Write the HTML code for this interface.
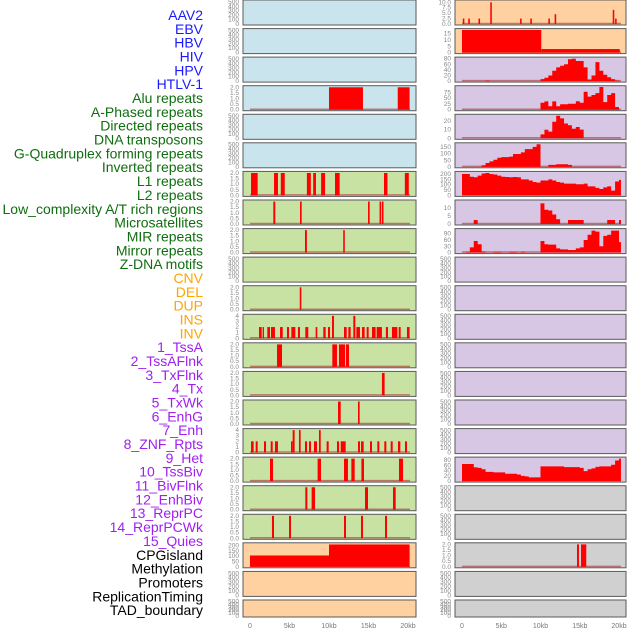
<!DOCTYPE html>
<html><head><meta charset="utf-8"><style>
html,body{margin:0;padding:0;background:#fff;}
svg{display:block;font-family:"Liberation Sans",sans-serif;}
</style></head><body>
<svg id="chart" width="630" height="630" viewBox="0 0 630 630" xmlns="http://www.w3.org/2000/svg"></svg>
<script>
// ---------- labels ----------
const trackLabels = ["AAV2","EBV","HBV","HIV","HPV","HTLV-1","Alu repeats","A-Phased repeats","Directed repeats","DNA transposons","G-Quadruplex forming repeats","Inverted repeats","L1 repeats","L2 repeats","Low_complexity A/T rich regions","Microsatellites","MIR repeats","Mirror repeats","Z-DNA motifs","CNV","DEL","DUP","INS","INV","1_TssA","2_TssAFlnk","3_TxFlnk","4_Tx","5_TxWk","6_EnhG","7_Enh","8_ZNF_Rpts","9_Het","10_TssBiv","11_BivFlnk","12_EnhBiv","13_ReprPC","14_ReprPCWk","15_Quies","CPGisland","Methylation","Promoters","ReplicationTiming","TAD_boundary"];
const labelColors = ["#1a1aff","#1a1aff","#1a1aff","#1a1aff","#1a1aff","#1a1aff","#0f6e0f","#0f6e0f","#0f6e0f","#0f6e0f","#0f6e0f","#0f6e0f","#0f6e0f","#0f6e0f","#0f6e0f","#0f6e0f","#0f6e0f","#0f6e0f","#0f6e0f","#ffa500","#ffa500","#ffa500","#ffa500","#ffa500","#a020f0","#a020f0","#a020f0","#a020f0","#a020f0","#a020f0","#a020f0","#a020f0","#a020f0","#a020f0","#a020f0","#a020f0","#a020f0","#a020f0","#a020f0","#000","#000","#000","#000","#000"];
const xTickValues = [0,5,10,15,20];
const xTickLabels = ["0","5kb","10kb","15kb","20kb"];
const emptyTicks = [0,100,200,300,400,500];
const binTicks = [0,0.5,1,1.5,2];
const binLabels = ["0.0","0.5","1.0","1.5","2.0"];

// ---------- segment data [startKb, endKb, height] ----------
const aav2Spikes = [[0.1,0.3,2.5],[0.8,1.0,2.5],[2.1,2.3,2.5],[3.6,3.8,10],[7.4,7.6,2.5],[8.7,8.9,2.5],[11.0,11.2,2.5],[11.8,12.0,4.5],[19.2,19.4,6.5],[19.5,19.7,2.5]];
const ebvSteps = [[0,10.1,18],[10.1,20.1,2.8]];
const aluBlocks = [[10.0,14.3,2],[18.7,20.2,2]];
const l1Blocks = [[0.13,0.97,2],[3.04,3.54,2],[3.9,4.4,2],[7.2,7.7,2],[8.0,8.35,2],[9.0,9.5,2],[10.76,11.35,2],[16.96,17.4,2],[19.6,20.1,2]];
const lowCxBlocks = [[2.95,3.2,2],[6.33,6.54,2],[14.94,15.15,2],[16.4,16.6,2],[16.7,16.9,2]];
const mirBlocks = [[6.96,7.2,2],[11.8,12.0,2]];
const cnvBlocks = [[6.3,6.5,2]];
const insBlocks = [[1.14,1.48,2],[1.6,1.77,2],[2.19,2.53,2],[2.66,3.16,2],[3.8,4.14,2],[4.68,4.94,2],[5.23,5.74,2],[6.07,6.33,2],[7.0,7.38,2],[8.31,8.52,2],[9.28,9.58,2],[9.87,10.13,2],[10.38,10.63,4],[11.9,12.24,2],[12.45,12.74,2],[13.08,13.33,4],[13.46,13.92,2],[14.18,14.51,2],[14.77,15.02,2],[15.44,15.9,2],[16.03,16.7,2],[17.2,17.47,2],[17.97,18.65,2],[18.82,19.07,2],[19.87,20.2,2]];
const tssABlocks = [[3.42,4.05,2],[10.42,11.01,2],[11.26,12.03,2],[12.15,12.53,2]];
const txFlnkBlocks = [[16.7,17.04,2]];
const txWkBlocks = [[11.14,11.48,2],[13.67,13.88,2]];
const znfBlocks = [[0.13,0.46,2],[0.72,0.97,2],[1.77,2.03,2],[2.62,2.87,2],[3.16,3.54,2],[5.19,5.4,2],[5.4,5.65,4],[6.2,6.41,4],[6.96,7.22,2],[7.47,7.72,2],[8.1,8.48,2],[8.73,8.95,4],[9.7,9.96,2],[11.01,11.27,2],[11.48,12.11,2],[13.67,13.92,2],[14.05,14.39,2],[15.19,15.44,2],[16.12,16.37,2],[17.0,17.26,2],[17.81,18.06,2],[18.73,19.03,2],[19.62,19.87,2]];
const tssBivBlocks = [[2.53,2.91,2],[8.56,8.99,2],[11.9,12.4,2],[12.83,13.25,2],[14.1,14.43,2],[18.86,19.37,2]];
const enhBivBlocks = [[7.0,7.26,2],[7.8,8.23,2],[14.56,14.94,2],[18.1,18.44,2]];
const reprPCWkBlocks = [[2.78,3.04,2],[4.94,5.19,2],[11.9,12.15,2],[14.05,14.3,2],[17.09,17.34,2]];
const cpgSteps = [[0,10,106],[10,20.2,209]];
const methBlocks = [[14.65,14.9,2],[15.16,15.83,2]];

// ---------- histogram data (0.5kb bins from 0 to 20.0) ----------
const hivBins = [0,0,0,0,0,0,2,0,0,0,0,0,0,0,0,0,0,0,0,0,7,12,20,37,49,55,60,78,80,72,72,49,6,20,68,37,23,14,7,2,0];
const hpvBins = [0,0,0,0,0,0,0,0,0,0,0,0,0,0,0,0,0,0,0,0,30,36,15,36,15,24,24,26,26,37,30,78,57,64,72,99,33,64,72,12,0];
const htlvBins = [0,0,0,0,0,0,0,0,0,0,0,0,0,0,0,0,0,0,0,0,4.5,9.8,7.6,19,26,23,17,15,11,13,10,0,0,0,0,0,0,0,0,0,0];
const gquadBins = [0,0,0,0,0,12,29,42,54,69,74,74,78,98,98,110,135,135,152,172,0,0,15,15,20,20,20,15,0,0,0,0,0,0,0,0,0,0,0,0,0];
const l2Bins = [200,200,175,170,185,205,210,200,195,185,175,172,170,172,170,150,150,140,125,120,140,140,150,140,125,120,110,110,110,105,105,110,85,85,70,60,75,85,45,130,145];
const microBins = [0,0,0,2.5,0,0,0,0,0,0,0,0,0,0,0,0,0,0,0,0,13,9,8.5,6,3,0,0,2.5,2.5,2.5,2.5,0,0,0,0,0,0,2.5,2.5,0,2.5];
const mirrorBins = [0,3,25,55,40,5,0,0,3,3,0,0,3,3,0,3,0,0,0,0,55,40,38,38,20,15,15,12,12,20,25,60,85,105,100,30,80,85,105,105,50];
const hetBins = [65,65,65,52,50,45,35,35,33,33,33,28,28,28,25,20,18,14,14,14,56,56,56,56,56,56,53,53,53,53,50,38,45,48,54,56,56,56,62,78,85];

// ---------- panel layout ----------
const COLORS = {blue:"#c9e4ec", green:"#c8e2a4", orange:"#ffd1a0", lav:"#d7c6e4", gray:"#d0d0d0"};
const COLS = [{x0:243,x1:416,zeroX:250,pxPerKb:7.9,tickX:239},{x0:455,x1:626,zeroX:462,pxPerKb:7.85,tickX:451}];
// row, col, background, kind, data, vmax, ticks, tick labels, name
const panels = [
 [0,0,"blue","empty"],[0,1,"orange","seg",aav2Spikes,10.6,[0,2.5,5,7.5,10],["0.0","2.5","5.0","7.5","10.0"],"aav2-track"],
 [1,0,"blue","empty"],[1,1,"orange","seg",ebvSteps,18.3,[0,5,10,15],["0","5","10","15"],"ebv-track"],
 [2,0,"blue","empty"],[2,1,"lav","hist",hivBins,82,[0,20,40,60,80],["0","20","40","60","80"],"hiv-track"],
 [3,0,"blue","seg",aluBlocks,2.05,binTicks,binLabels,"alu-track"],[3,1,"lav","hist",hpvBins,100,[0,25,50,75],["0","25","50","75"],"hpv-track"],
 [4,0,"blue","empty"],[4,1,"lav","hist",htlvBins,26.5,[0,10,20],["0","10","20"],"htlv-track"],
 [5,0,"blue","empty"],[5,1,"lav","hist",gquadBins,175,[0,50,100,150],["0","50","100","150"],"gquad-track"],
 [6,0,"green","seg",l1Blocks,2.05,binTicks,binLabels,"l1-track"],[6,1,"lav","hist",l2Bins,215,[0,50,100,150,200],["0","50","100","150","200"],"l2-track"],
 [7,0,"green","seg",lowCxBlocks,2.05,binTicks,binLabels,"lowcomplexity-track"],[7,1,"lav","hist",microBins,14.5,[0,5,10],["0","5","10"],"microsatellite-track"],
 [8,0,"green","seg",mirBlocks,2.05,binTicks,binLabels,"mir-track"],[8,1,"lav","hist",mirrorBins,110,[0,30,60,90],["0","30","60","90"],"mirror-track"],
 [9,0,"green","empty"],[9,1,"lav","empty"],
 [10,0,"green","seg",cnvBlocks,2.05,binTicks,binLabels,"cnv-track"],[10,1,"lav","empty"],
 [11,0,"green","seg",insBlocks,4.1,[0,1,2,3,4],["0","1","2","3","4"],"ins-track"],[11,1,"lav","empty"],
 [12,0,"green","seg",tssABlocks,2.05,binTicks,binLabels,"tssa-track"],[12,1,"lav","empty"],
 [13,0,"green","seg",txFlnkBlocks,2.05,binTicks,binLabels,"txflnk-track"],[13,1,"lav","empty"],
 [14,0,"green","seg",txWkBlocks,2.05,binTicks,binLabels,"txwk-track"],[14,1,"lav","empty"],
 [15,0,"green","seg",znfBlocks,4.1,[0,1,2,3,4],["0","1","2","3","4"],"znf-track"],[15,1,"lav","empty"],
 [16,0,"green","seg",tssBivBlocks,2.05,binTicks,binLabels,"tssbiv-track"],[16,1,"lav","hist",hetBins,87,[0,20,40,60,80],["0","20","40","60","80"],"het-track"],
 [17,0,"green","seg",enhBivBlocks,2.05,binTicks,binLabels,"enhbiv-track"],[17,1,"gray","empty"],
 [18,0,"green","seg",reprPCWkBlocks,2.05,binTicks,binLabels,"reprpcwk-track"],[18,1,"gray","empty"],
 [19,0,"orange","seg",cpgSteps,215,[0,50,100,150,200],["0","50","100","150","200"],"cpg-track"],[19,1,"gray","seg",methBlocks,2.05,binTicks,binLabels,"methylation-track"],
 [20,0,"orange","empty"],[20,1,"gray","empty"],
 [21,0,"orange","empty"],[21,1,"gray","empty"]
];

const NS="http://www.w3.org/2000/svg";
const svg=document.getElementById("chart");
function mk(tag,attrs,parent){const e=document.createElementNS(NS,tag);for(const k in attrs)e.setAttribute(k,attrs[k]);(parent||svg).appendChild(e);return e;}

// labels
trackLabels.forEach((t,i)=>{
  const e=mk("text",{x:203,y:(20+i*13.84).toFixed(1),"text-anchor":"end","font-size":"14",fill:labelColors[i]});
  
  
  e.textContent=t;
});

panels.forEach(p=>{
  const [row,col,bg,kind,data,vmaxIn,ticks,tlabels,name]=p;
  const c=COLS[col];
  const top=row*28.57;
  const h=row===21?17:25;
  const bottom=top+h;
  const vmax=kind==="empty"?520:vmaxIn;
  const tk=kind==="empty"?emptyTicks:ticks;
  const tl=kind==="empty"?emptyTicks.map(String):tlabels;
  const xs=kb=>c.zeroX+kb*c.pxPerKb;
  const ys=v=>bottom-1-v/vmax*(h-2);
  const g=mk("g",{});
  
  
  const r=mk("rect",{x:c.x0,y:top.toFixed(1),width:c.x1-c.x0,height:h,fill:COLORS[bg],stroke:"#5a5a5a","stroke-width":"1"},g);
  
  
  // y ticks
  tk.forEach((v,i)=>{
    const t=mk("text",{x:c.tickX,y:(ys(v)+2).toFixed(1),"text-anchor":"end","font-size":"6.5",fill:"#888"},g);
    
    
    t.textContent=tl[i];
  });
  if(kind==="empty")return;
  // baseline
  const bl=mk("line",{x1:xs(0),x2:xs(20.25),y1:ys(0)-0.5,y2:ys(0)-0.5,stroke:"#a33",  "stroke-opacity":"0.6","stroke-width":"1.5"},g);
  
  
  if(kind==="seg"){
    data.forEach(d=>{
      const x=xs(d[0]);const w=Math.max(1.2,xs(d[1])-x);
      const b=mk("rect",{x:x.toFixed(2),y:ys(d[2]).toFixed(2),width:w.toFixed(2),height:(ys(0)-ys(d[2])).toFixed(2),fill:"#ff0000"},g);
      
      
    });
  } else {
    let dstr="M"+xs(0)+","+ys(0);
    data.forEach((v,i)=>{
      const a=xs(i*0.5), bEnd=xs(Math.min(i*0.5+0.5,20.25));
      dstr+=" L"+a.toFixed(2)+","+ys(v).toFixed(2)+" L"+bEnd.toFixed(2)+","+ys(v).toFixed(2);
    });
    dstr+=" L"+xs(20.25).toFixed(2)+","+ys(0)+" Z";
    const pa=mk("path",{d:dstr,fill:"#ff0000"},g);
    
    
  }
});

// x axis labels
COLS.forEach((c,ci)=>{
  xTickValues.forEach((v,i)=>{
    const t=mk("text",{x:(c.zeroX+v*c.pxPerKb).toFixed(1),y:628,"text-anchor":"middle","font-size":"7",fill:"#777"});
    
    
    t.textContent=xTickLabels[i];
  });
});
</script>
</body></html>
